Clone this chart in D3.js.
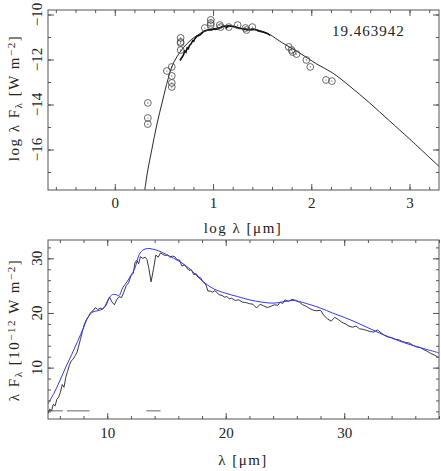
<!DOCTYPE html>
<html lang="en">

<head>
    <meta charset="UTF-8">
    <title>SED 19.463942</title>
    <script src="https://d3js.org/d3.v7.min.js"></script>
    <style>
        body {
            margin: 0;
            padding: 0;
            background-color: #fff;
        }

        text {
            font-family: "Liberation Serif", "DejaVu Serif", serif;
            fill: #222;
        }
    </style>
</head>

<body>
    <div id="chart"></div>
    <script>
        // ---------------- data ----------------
        // top panel: photometry (log lambda [um], log lambda F_lambda [W m^-2])
        var obsLogLam = [0.336, 0.336, 0.336, 0.53, 0.58, 0.58, 0.58, 0.58, 0.67, 0.67, 0.67, 0.67,
            0.916, 0.977, 0.977, 0.977, 1.068, 1.078, 1.16, 1.25, 1.33, 1.34, 1.40,
            1.77, 1.80, 1.81, 1.85, 1.95, 1.99, 2.15, 2.21];
        var obsLogFlux = [-13.93, -14.6, -14.87, -12.51, -12.33, -12.73, -13.04, -13.22, -11.04, -11.22, -11.27, -11.58,
            -10.6, -10.24, -10.38, -10.47, -10.47, -10.56, -10.56, -10.47, -10.6, -10.69, -10.56,
            -11.44, -11.58, -11.67, -11.76, -12.02, -12.33, -12.91, -12.96];

        // top panel: model SED
        var modelLogLam = [0.305, 0.336, 0.376, 0.427, 0.488, 0.539, 0.58, 0.631, 0.699, 0.778, 0.845, 0.903,
            1.0, 1.079, 1.127, 1.176, 1.255, 1.301, 1.38, 1.415, 1.477, 1.531, 1.58, 1.709, 1.882, 2.055, 2.218,
            2.39, 2.594, 2.797, 3.0, 3.3];
        var modelLogFlux = [-17.8, -16.91, -16.02, -14.91, -13.8, -12.91, -12.33, -11.89, -11.47, -11.12, -10.91, -10.76,
            -10.64, -10.57, -10.5, -10.51, -10.59, -10.63, -10.66, -10.65, -10.72, -10.81, -10.9, -11.27, -11.71,
            -12.2, -12.6, -13.18, -13.93, -14.73, -15.53, -16.75];

        // bottom panel: ISO spectrum (lambda [um], lambda F_lambda [1e-12 W m^-2])
        var specLam = [4.6, 4.8, 5.0, 5.15, 5.3, 5.45, 5.6, 5.75, 5.9, 6.05, 6.2, 6.35, 6.5, 6.65, 6.8, 6.95, 7.1, 7.3,
            7.45, 7.6, 7.75, 7.9, 8.05, 8.2, 8.4, 8.6, 8.8, 9.0, 9.2, 9.4, 9.6, 9.8, 10.0, 10.2, 10.4, 10.6, 10.8,
            11.0, 11.2, 11.4, 11.6, 11.8, 12.0, 12.2, 12.35, 12.5, 12.65, 12.8, 13.0, 13.2, 13.35, 13.5, 13.7, 13.9,
            14.1, 14.3, 14.5, 14.7, 14.9, 15.1, 15.3, 15.5, 15.7, 15.9, 16.1, 16.3, 16.5, 16.7, 16.9, 17.1, 17.3,
            17.5, 17.7, 17.9, 18.1, 18.3, 18.5, 18.7, 18.9, 19.1, 19.3, 19.5, 19.7, 19.9, 20.1, 20.3, 20.5, 20.8,
            21.1, 21.4, 21.7, 22.0, 22.3, 22.6, 22.9, 23.2, 23.5, 23.8, 24.1, 24.4, 24.6, 24.8, 25.0, 25.3, 25.6,
            25.9, 26.2, 26.5, 26.8, 27.1, 27.4, 27.7, 28.0, 28.3, 28.6, 28.9, 29.2, 29.5, 29.8, 30.1, 30.4, 30.7,
            31.0, 31.3, 31.6, 31.9, 32.2, 32.5, 32.8, 33.1, 33.4, 33.7, 34.0, 34.3, 34.6, 34.9, 35.2, 35.5, 35.8,
            36.1, 36.4, 36.7, 37.0, 37.3, 37.6, 38.0];
        var specFlux = [0.9, 1.2, 1.6, 2.4, 2.1, 3.3, 3.0, 4.2, 4.6, 5.5, 6.9, 6.4, 8.2, 9.3, 10.4, 11.2, 11.5, 12.2,
            12.8, 14.0, 15.3, 16.6, 17.8, 18.6, 19.3, 20.1, 20.4, 21.0, 20.6, 20.9, 20.7, 21.2, 22.1, 22.9, 22.0, 21.5, 22.4,
            23.0, 22.8, 23.8, 25.0, 25.5, 26.8, 27.3, 29.3, 29.6, 29.0, 30.3, 30.0, 30.2, 29.8, 28.3, 25.7, 28.0,
            30.6, 30.2, 31.0, 30.7, 30.5, 30.6, 30.2, 30.4, 30.3, 29.7, 29.7, 28.6, 28.8, 28.3, 27.8, 27.9, 27.0,
            27.2, 26.6, 26.4, 25.6, 25.3, 24.0, 24.0, 23.8, 24.1, 23.6, 23.3, 23.2, 22.9, 23.0, 22.6, 22.7, 22.3,
            22.4, 22.0, 21.9, 21.7, 21.6, 20.9, 21.6, 21.3, 21.0, 21.2, 21.5, 21.4, 22.0, 21.7, 22.4, 22.1, 22.5,
            22.3, 22.0, 21.5, 21.2, 20.8, 20.5, 20.4, 20.5, 19.5, 18.9, 18.5, 19.2, 18.8, 18.3, 18.0, 17.6, 17.4,
            17.6, 17.1, 17.0, 16.8, 16.6, 16.5, 16.9, 16.4, 15.9, 15.6, 15.5, 15.2, 15.1, 14.8, 14.6, 14.5, 14.1,
            13.8, 13.7, 13.3, 13.0, 12.6, 12.3, 11.8];

        // bottom panel: model fit (blue)
        var fitLam = [5.0, 5.5, 6.0, 6.5, 7.0, 7.5, 8.0, 8.4, 8.8, 9.2, 9.6, 9.9, 10.2, 10.5, 10.8, 11.0, 11.3, 11.7,
            12.0, 12.3, 12.5, 12.7, 13.0, 13.4, 13.8, 14.3, 15.0, 15.6, 16.2, 17.0, 18.0, 19.0, 20.0, 21.0, 22.0,
            23.0, 24.0, 25.0, 25.6, 26.0, 27.0, 28.0, 29.0, 30.0, 31.0, 32.0, 33.0, 34.0, 35.0, 36.0, 37.0, 38.0];
        var fitFlux = [3.4, 5.3, 7.6, 10.1, 12.4, 14.8, 17.3, 19.3, 20.2, 20.4, 20.7, 21.4, 22.9, 23.4, 23.3, 23.2, 24.6, 25.8,
            26.9, 28.0, 29.4, 30.7, 31.5, 31.8, 31.7, 31.4, 30.7, 30.0, 29.3, 28.0, 25.9, 24.4, 23.6, 23.0, 22.4,
            22.0, 21.8, 22.1, 22.3, 22.2, 21.6, 20.9, 20.0, 19.2, 18.3, 17.3, 16.3, 15.4, 14.6, 13.9, 13.3, 12.7];

        // bottom panel: grey gap markers
        var gapStart = [5.0, 6.6, 13.3];
        var gapEnd = [6.25, 8.5, 14.5];
        var gapLevel = 2.1;

        var label = "19.463942";

        // ---------------- svg ----------------
        var W = 441, H = 471;
        var svg = d3.select("#chart")
            .append("svg")
            .attr("width", W)
            .attr("height", H);

        var left = 48, right = 439;
        var frameColor = "#555";

        // scales
        var x1 = d3.scaleLinear().domain([-0.68, 3.3]).range([left, right]);
        var y1 = d3.scaleLinear().domain([-17.8, -9.8]).range([190, 10]);
        var x2 = d3.scaleLinear().domain([5, 38]).range([left, right]);
        var y2 = d3.scaleLinear().domain([0.6, 33.35]).range([419, 240]);

        // draws a box with inward ticks on all four sides
        function frame(x, y, xMajor, xMinor, yMajor, yMinor, pad) {
            var top = y.range()[1], bot = y.range()[0];
            var g = svg.append("g");

            function addAxis(axis, tx, ty, vals, size, fmt) {
                var a = g.append("g")
                    .attr("transform", "translate(" + tx + "," + ty + ")")
                    .call(axis.tickValues(vals).tickSize(size).tickPadding(pad).tickFormat(fmt));
                a.select(".domain").remove();
                a.selectAll("line").attr("stroke", frameColor);
                return a;
            }
            var none = function () { return ""; };
            var fmt = function (d) { return d3.format("d")(d).replace("-", "\u2212"); };

            addAxis(d3.axisBottom(x), 0, bot, xMinor, -3, none);
            addAxis(d3.axisTop(x), 0, top, xMinor, -3, none);
            addAxis(d3.axisLeft(y), left, 0, yMinor, -3, none);
            addAxis(d3.axisRight(y), right, 0, yMinor, -3, none);

            var bx = addAxis(d3.axisBottom(x), 0, bot, xMajor, -6, fmt);
            bx.selectAll("text")
                .style("font-size", "15px")
                .attr("font-family", null)
                .attr("fill", "#222");
            addAxis(d3.axisTop(x), 0, top, xMajor, -6, none);
            addAxis(d3.axisLeft(y), left, 0, yMajor, -6, none).selectAll("text").remove();
            addAxis(d3.axisRight(y), right, 0, yMajor, -6, none);

            // rotated y tick labels
            g.selectAll(".ylab")
                .data(yMajor)
                .enter()
                .append("text")
                .attr("transform", function (d) { return "translate(42," + y(d) + ") rotate(-90)"; })
                .attr("text-anchor", "middle")
                .style("font-size", "15px")
                .text(fmt);

            g.append("rect")
                .attr("x", left)
                .attr("y", top)
                .attr("width", right - left)
                .attr("height", bot - top)
                .attr("fill", "none")
                .attr("stroke", frameColor)
                .attr("stroke-width", 1);
        }

        function clip(id, y) {
            svg.append("clipPath")
                .attr("id", id)
                .append("rect")
                .attr("x", left)
                .attr("y", y.range()[1])
                .attr("width", right - left)
                .attr("height", y.range()[0] - y.range()[1]);
        }
        clip("c1", y1);
        clip("c2", y2);

        // ---------------- top panel ----------------
        var top1 = svg.append("g").attr("clip-path", "url(#c1)");

        var modelData = modelLogLam.map(function (d, i) { return [d, modelLogFlux[i]]; });
        top1.append("path")
            .datum(modelData)
            .attr("fill", "none")
            .attr("stroke", "#111")
            .attr("stroke-width", 0.9)
            .attr("d", d3.line()
                .curve(d3.curveCatmullRom)
                .x(function (d) { return x1(d[0]); })
                .y(function (d) { return y1(d[1]); }));

        // spectrum in log space
        var specLog = specLam.map(function (d, i) { return [Math.log10(d), Math.log10(specFlux[i]) - 12]; });
        top1.append("path")
            .datum(specLog)
            .attr("fill", "none")
            .attr("stroke", "#111")
            .attr("stroke-width", 1.6)
            .attr("d", d3.line()
                .x(function (d) { return x1(d[0]); })
                .y(function (d) { return y1(d[1]); }));

        var obs = obsLogLam.map(function (d, i) { return [d, obsLogFlux[i]]; });
        var pts = top1.selectAll(".obs")
            .data(obs)
            .enter()
            .append("g")
            .attr("transform", function (d) { return "translate(" + x1(d[0]) + "," + y1(d[1]) + ")"; });
        pts.append("circle")
            .attr("r", 3.4)
            .attr("fill", "none")
            .attr("stroke", "#444")
            .attr("stroke-width", 0.8);
        pts.append("circle")
            .attr("r", 0.6)
            .attr("fill", "#444");

        frame(x1, y1, [0, 1, 2, 3], d3.range(-6, 34, 2).map(function (d) { return d / 10; }),
            [-16, -14, -12, -10], d3.range(-17, -9, 1), 7);

        svg.append("text")
            .attr("x", 332)
            .attr("y", 36)
            .style("font-size", "15px")
            .style("letter-spacing", "1px")
            .text(label);

        // axis titles
        var t1 = svg.append("text")
            .attr("text-anchor", "middle")
            .attr("transform", "translate(19,98) rotate(-90)")
            .style("font-size", "15px")
            .style("letter-spacing", "1.5px");
        t1.append("tspan").text("log \u03bb F");
        t1.append("tspan").attr("baseline-shift", "-25%").style("font-size", "11px").text("\u03bb");
        t1.append("tspan").text(" [W m");
        t1.append("tspan").attr("baseline-shift", "40%").style("font-size", "11px").text("\u22122");
        t1.append("tspan").text("]");

        svg.append("text")
            .attr("x", 243)
            .attr("y", 233)
            .attr("text-anchor", "middle")
            .style("font-size", "15px")
            .style("letter-spacing", "1.5px")
            .text("log \u03bb [\u03bcm]");

        // ---------------- bottom panel ----------------
        var bot2 = svg.append("g").attr("clip-path", "url(#c2)");

        bot2.selectAll(".gap")
            .data(gapStart)
            .enter()
            .append("line")
            .attr("x1", function (d) { return x2(d); })
            .attr("x2", function (d, i) { return x2(gapEnd[i]); })
            .attr("y1", y2(gapLevel))
            .attr("y2", y2(gapLevel))
            .attr("stroke", "#888")
            .attr("stroke-width", 1.3);

        var specData = specLam.map(function (d, i) { return [d, specFlux[i]]; });
        bot2.append("path")
            .datum(specData)
            .attr("fill", "none")
            .attr("stroke", "#222")
            .attr("stroke-width", 0.9)
            .attr("d", d3.line()
                .x(function (d) { return x2(d[0]); })
                .y(function (d) { return y2(d[1]); }));

        var fitData = fitLam.map(function (d, i) { return [d, fitFlux[i]]; });
        bot2.append("path")
            .datum(fitData)
            .attr("fill", "none")
            .attr("stroke", "#3535ff")
            .attr("stroke-width", 1)
            .attr("d", d3.line()
                .curve(d3.curveCatmullRom)
                .x(function (d) { return x2(d[0]); })
                .y(function (d) { return y2(d[1]); }));

        frame(x2, y2, [10, 20, 30], d3.range(6, 39, 2), [10, 20, 30], d3.range(2, 34, 2), 8);

        var t2 = svg.append("text")
            .attr("text-anchor", "middle")
            .attr("transform", "translate(19,330) rotate(-90)")
            .style("font-size", "15px")
            .style("letter-spacing", "1.5px");
        t2.append("tspan").text("\u03bb F");
        t2.append("tspan").attr("baseline-shift", "-25%").style("font-size", "11px").text("\u03bb");
        t2.append("tspan").text(" [10");
        t2.append("tspan").attr("baseline-shift", "40%").style("font-size", "11px").text("\u221212");
        t2.append("tspan").text(" W m");
        t2.append("tspan").attr("baseline-shift", "40%").style("font-size", "11px").text("\u22122");
        t2.append("tspan").text("]");

        svg.append("text")
            .attr("x", 243)
            .attr("y", 465)
            .attr("text-anchor", "middle")
            .style("font-size", "15px")
            .style("letter-spacing", "1.5px")
            .text("\u03bb [\u03bcm]");
    </script>
</body>

</html>
